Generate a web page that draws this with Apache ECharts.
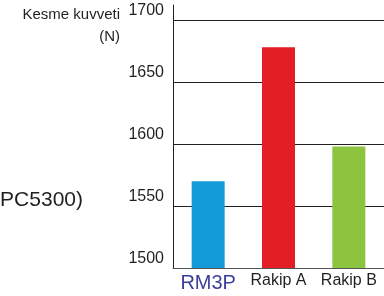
<!DOCTYPE html>
<html>
<head>
<meta charset="utf-8">
<script src="https://cdn.jsdelivr.net/npm/echarts@6/dist/echarts.min.js"></script>
<style>
  html, body { margin: 0; padding: 0; background: #fff; }
  #chart { width: 384px; height: 296px; }
</style>
</head>
<body>
<div id="chart"></div>
<script>
const categories = ['RM3P', 'Rakip A', 'Rakip B']
const values = [1570, 1678, 1598]
const barColors = ['#129ad9', '#e31e25', '#8cc43f']
const yTicks = [1500, 1550, 1600, 1650, 1700]

const chart = echarts.init(document.getElementById('chart'))

const option = {
  backgroundColor: '#fff',
  animation: false,
  grid: { left: 173, right: -8, top: 5, bottom: 28, containLabel: false },
  graphic: [
    {
      type: 'text', right: 264, top: 7,
      style: { text: 'Kesme kuvveti', font: '15px "Liberation Sans"', fill: '#231f20' }
    },
    {
      type: 'text', right: 264, top: 29,
      style: { text: '(N)', font: '15px "Liberation Sans"', fill: '#231f20' }
    },
    {
      type: 'text', right: 301, top: 190,
      style: { text: 'PC5300)', font: '21px "Liberation Sans"', fill: '#231f20' }
    }
  ],
  xAxis: {
    type: 'category',
    data: categories,
    axisLine: { lineStyle: { color: '#555', width: 1 } },
    axisTick: { show: false },
    axisLabel: {
      interval: 0,
      margin: 5,
      fontFamily: 'Liberation Sans',
      fontSize: 16,
      color: '#231f20',
      rich: {
        main: { fontSize: 20, color: '#3b3f9a', fontFamily: 'Liberation Sans' }
      },
      formatter: (v, i) => i === 0 ? '{main|' + v + '}' : v
    }
  },
  yAxis: {
    type: 'value',
    min: yTicks[0],
    max: 1712,
    interval: 50,
    axisLine: { show: true, lineStyle: { color: '#231f20', width: 1 } },
    axisTick: { show: false },
    axisLabel: {
      margin: 9,
      fontFamily: 'Liberation Sans',
      fontSize: 16,
      lineHeight: 19,
      color: '#231f20',
      showMaxLabel: false,
      formatter: v => yTicks.includes(v) ? v + '\n' : ''
    },
    splitLine: { show: true, showMaxLine: false, lineStyle: { color: '#231f20', width: 1 } }
  },
  series: [{
    type: 'bar',
    barWidth: 33,
    data: values.map((v, i) => ({ value: v, itemStyle: { color: barColors[i] } }))
  }]
}

chart.setOption(option)
</script>
</body>
</html>
